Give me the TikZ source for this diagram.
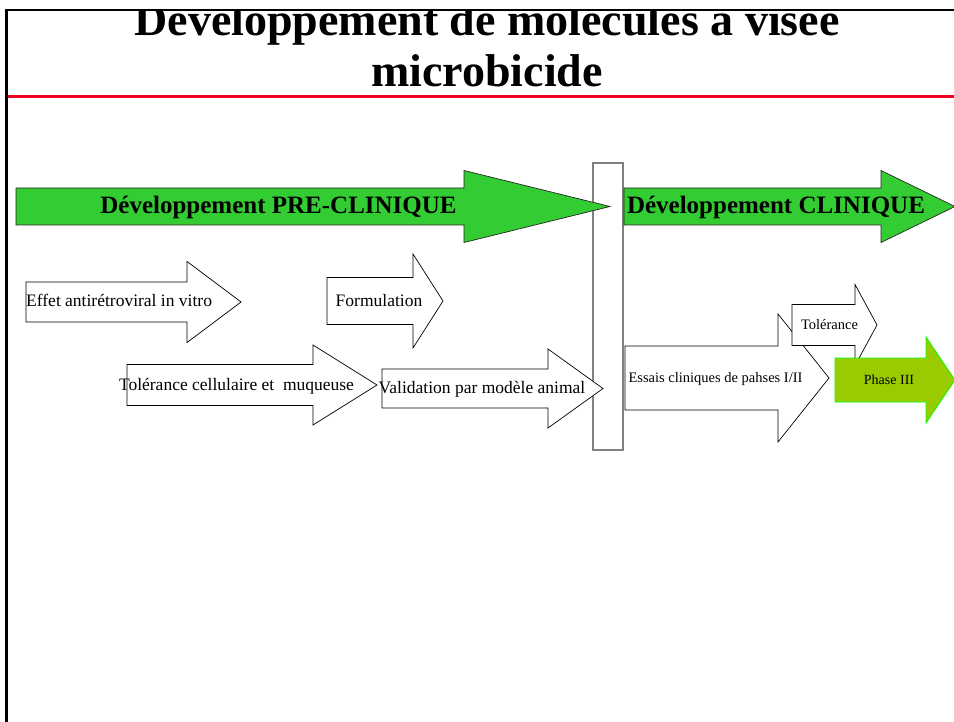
\documentclass[tikz,border=0pt]{standalone}
\usepackage{fontspec}
\setmainfont{Liberation Serif}
\definecolor{vertclair}{RGB}{51,204,51}
\definecolor{vertolive}{RGB}{153,204,0}
\definecolor{vertvif}{RGB}{0,255,0}
\definecolor{rougetitre}{RGB}{240,0,36}

\tikzset{
  fleche/.style={draw=black, fill=white, line width=0.7pt},
  flechevert/.style={draw=black!85, fill=vertclair, line width=0.7pt},
  flecheolive/.style={draw=vertvif, fill=vertolive, line width=0.8pt},
  barre/.style={draw=gray, fill=white, line width=1.2pt, inner sep=0pt},
  titre/.style={anchor=base, inner sep=0pt, font=\fontsize{46}{52}\selectfont\bfseries},
  getiq/.style={anchor=base, inner sep=0pt, font=\fontsize{25}{30}\selectfont\bfseries},
  etiq/.style={anchor=base, inner sep=0pt, font=\fontsize{17.5}{20}\selectfont},
  petiq/.style={anchor=base, inner sep=0pt, font=\fontsize{14.5}{17}\selectfont}
}

\begin{document}
\begin{tikzpicture}[x=1pt, y=-1pt]
\useasboundingbox (0,0) rectangle (954,722);
% cadre et titre
\draw[black, line width=2.2pt] (6.5,722) -- (6.5,10);
\draw[black, line width=1.5pt] (5.4,10) -- (954,10);
\draw[rougetitre, line width=3.8pt] (7.5,96.5) -- (954,96.5);
\begin{scope}
\clip (8,11) rectangle (954,94);
\node[titre] (titre1) at (487,36) {Développement de molécules à visée};
\node[titre] (titre2) at (487,87) {microbicide};
\end{scope}

% separation pre-clinique / clinique
\node[barre, minimum width=30, minimum height=287] (separation) at (608,306.5) {};

% grandes fleches vertes
\foreach \xa/\xb/\xc/\yc/\h/\H in {16/464/610/206.5/18.5/36, 624/881/955/206.5/18.5/36} {
  \draw[flechevert] (\xa,\yc-\h) -- (\xb,\yc-\h) -- (\xb,\yc-\H) -- (\xc,\yc)
    -- (\xb,\yc+\H) -- (\xb,\yc+\h) -- (\xa,\yc+\h) -- cycle;
}
\node[getiq] (preclinique) at (278.5,214) {Développement PRE-CLINIQUE};
\node[getiq] (clinique) at (776,214) {Développement CLINIQUE};

% etapes pre-cliniques
\foreach \xa/\xb/\xc/\yc/\h/\H in {26/187/241/302/20/40.5, 327/413/443/301/23.5/47,
    127/313/377/385/20.5/40, 382/548/603/388.5/19.5/39.5} {
  \draw[fleche] (\xa,\yc-\h) -- (\xb,\yc-\h) -- (\xb,\yc-\H) -- (\xc,\yc)
    -- (\xb,\yc+\H) -- (\xb,\yc+\h) -- (\xa,\yc+\h) -- cycle;
}
\node[etiq, anchor=base west] (effet) at (26,307) {Effet antirétroviral in vitro};
\node[etiq] (formulation) at (379,306.5) {Formulation};
\node[etiq] (tolcell) at (236.5,390) {Tolérance cellulaire et~~muqueuse};
\node[etiq] (validation) at (482,393) {Validation par modèle animal};

% etapes cliniques
\foreach \xa/\xb/\xc/\yc/\h/\H in {625/778/829/378/32/64, 792/855/877/325/20.5/40.5} {
  \draw[fleche] (\xa,\yc-\h) -- (\xb,\yc-\h) -- (\xb,\yc-\H) -- (\xc,\yc)
    -- (\xb,\yc+\H) -- (\xb,\yc+\h) -- (\xa,\yc+\h) -- cycle;
}
\draw[flecheolive] (835,358) -- (926,358) -- (926,337) -- (955,380)
  -- (926,423) -- (926,402) -- (835,402) -- cycle;
\node[petiq] (essais) at (715.5,382.5) {Essais cliniques de pahses I/II};
\node[petiq] (tolerance) at (829.5,329.5) {Tolérance};
\node[petiq, font=\fontsize{14}{17}\selectfont] (phase3) at (889,384.5) {Phase III};
\end{tikzpicture}
\end{document}
